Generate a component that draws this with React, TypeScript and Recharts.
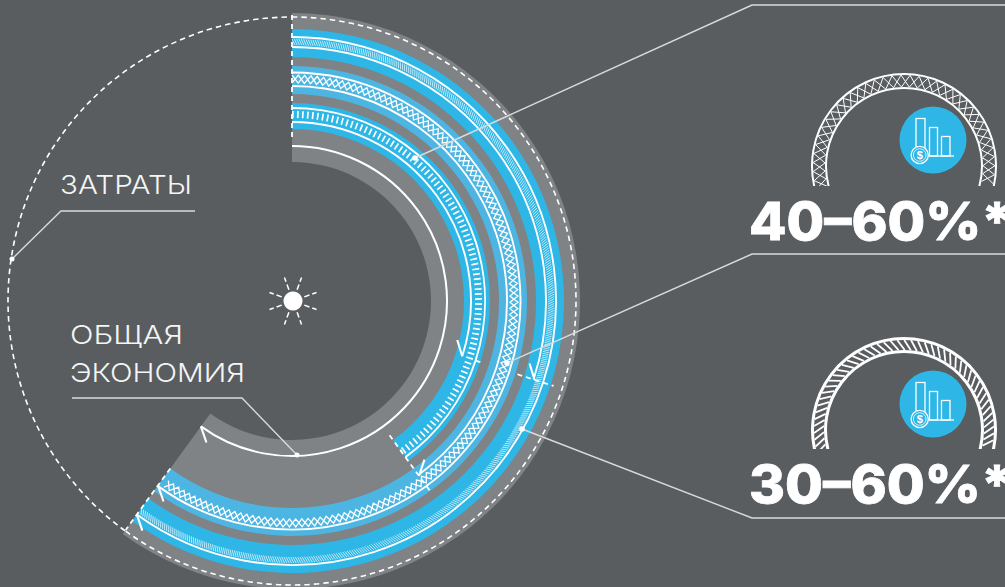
import { Pie, PieChart, Cell } from "recharts";

const BG = "#5A5D60";
const GRAY = "#7F8386";
const BLUE = "#2DB6E6";
const LIGHT_BLUE = "#4DB5E1";
const WHITE = "#FFFFFF";
const LEADER = "#D9DADB";

// Share of the circle, in percent, taken by each arc (rest of the circle stays empty).
const FULL = [100, 0];
const SPEND = [60, 40];
const SAVING_OUTER = [30, 70];
const SAVING_INNER = [40, 60];
const ARCH = [100];

const HEADLINES = ["40–60%*", "30–60%*"];
const SPEND_LABEL = ["ЗАТРАТЫ"];
const SAVING_LABEL = ["ОБЩАЯ", "ЭКОНОМИЯ"];
const SUN_RAYS = [20, 70, 110, 160, 200, 250, 290, 340];

const CX = 292;
const CY = 301;
const W = 1005;
const H = 587;

const toXY = (cx: number, cy: number, r: number, a: number) => {
  const t = (a * Math.PI) / 180;
  return [cx + r * Math.cos(t), cy - r * Math.sin(t)];
};

function arcPath(cx: number, cy: number, r: number, a0: number, a1: number) {
  const [x0, y0] = toXY(cx, cy, r, a0);
  const [x1, y1] = toXY(cx, cy, r, a1);
  const large = Math.abs(a0 - a1) > 180 ? 1 : 0;
  return `M${x0} ${y0}A${r} ${r} 0 ${large} 1 ${x1} ${y1}`;
}

type Opts = {
  kind: "dash" | "ticks" | "hatch" | "lattice" | "radial" | "barb";
  width?: number;
  dash?: string;
  pitch?: number;
  slant?: number;
  side?: number;
  all?: boolean;
  clip?: string;
};

// Draws the white decoration of a ring from the sector the Pie has computed.
function ringShape(o: Opts) {
  return (p: any) => {
    if (!o.all && p.index !== 0) return <g />;
    const { cx, cy, innerRadius: r0, outerRadius: r1, startAngle: a0, endAngle: a1 } = p;
    const mid = (r0 + r1) / 2;
    const common = { fill: "none", stroke: WHITE, strokeWidth: o.width ?? 1.5 };
    let body: any = null;
    if (o.kind === "dash") {
      body = <path d={arcPath(cx, cy, mid, a0, a1)} {...common} strokeDasharray={o.dash} />;
    } else if (o.kind === "ticks") {
      body = <path d={arcPath(cx, cy, mid, a0, a1)} {...common} strokeWidth={r1 - r0} strokeDasharray={o.dash} />;
    } else if (o.kind === "hatch") {
      const step = (((o.pitch ?? 3) / mid) * 180) / Math.PI;
      const skew = (((o.slant ?? 3) / mid) * 180) / Math.PI;
      const segs: string[] = [];
      for (let a = a0 - skew; a > a1; a -= step) {
        const [x0, y0] = toXY(cx, cy, r0, a);
        const [x1, y1] = toXY(cx, cy, r1, a + skew);
        segs.push(`M${x0} ${y0}L${x1} ${y1}`);
      }
      body = <path d={segs.join("")} {...common} />;
    } else if (o.kind === "lattice") {
      const step = (((o.pitch ?? 12) / 2 / mid) * 180) / Math.PI;
      const n = Math.floor((a0 - a1) / step);
      const zig = (phase: number) => {
        let d = "";
        for (let i = 0; i <= n; i++) {
          const [x, y] = toXY(cx, cy, (i + phase) % 2 === 0 ? r0 : r1, a0 - i * step);
          d += `${i === 0 ? "M" : "L"}${x} ${y}`;
        }
        return d;
      };
      body = (
        <>
          <path d={zig(0)} {...common} />
          <path d={zig(1)} {...common} />
        </>
      );
    } else if (o.kind === "radial") {
      const [x0, y0] = toXY(cx, cy, r0, a1);
      const [x1, y1] = toXY(cx, cy, r1, a1);
      body = <line x1={x0} y1={y0} x2={x1} y2={y1} {...common} strokeDasharray={o.dash} />;
    } else if (o.kind === "barb") {
      const [x, y] = toXY(cx, cy, r0, a1);
      const t = (a1 * Math.PI) / 180;
      // unit vector pointing back along the arc, then turned by 35 degrees
      const bx = Math.sin(t) * -1;
      const by = Math.cos(t) * -1;
      const s = ((o.side ?? 1) * 35 * Math.PI) / 180;
      const dx = bx * Math.cos(s) - by * Math.sin(s);
      const dy = bx * Math.sin(s) + by * Math.cos(s);
      body = <line x1={x} y1={y} x2={x + dx * 17} y2={y + dy * 17} {...common} strokeWidth={2.1} />;
    }
    return <g clipPath={o.clip ? `url(#${o.clip})` : undefined}>{body}</g>;
  };
}

function ring(
  key: string,
  values: number[],
  inner: number,
  outer: number,
  fill: string | null,
  opts?: Opts,
  cx = CX,
  cy = CY,
  start = 90,
  end = -270,
) {
  return (
    <Pie
      key={key}
      data={values.map((value) => ({ value }))}
      dataKey="value"
      cx={cx}
      cy={cy}
      innerRadius={inner}
      outerRadius={outer}
      startAngle={start}
      endAngle={end}
      stroke="none"
      isAnimationActive={false}
      shape={opts ? ringShape(opts) : undefined}
    >
      {values.map((_, i) => (
        <Cell key={i} fill={i === 0 && fill ? fill : "none"} />
      ))}
    </Pie>
  );
}

function Icon({ x, y }: { x: number; y: number }) {
  const s = { fill: "none", stroke: WHITE, strokeWidth: 1.3 };
  return (
    <g transform={`translate(${x} ${y})`}>
      <circle r={33.5} fill={BLUE} />
      <rect x={-17} y={-21.5} width={9} height={30} {...s} />
      <rect x={-3.5} y={-12.5} width={8} height={28.5} {...s} />
      <rect x={8.5} y={-3.5} width={8.5} height={19.5} {...s} />
      <line x1={-4.5} y1={16} x2={21} y2={16} {...s} />
      <circle cx={-13.3} cy={15} r={8.6} fill={BLUE} stroke={WHITE} strokeWidth={1.3} />
      <circle cx={-13.3} cy={15} r={6.3} {...s} strokeWidth={0.8} />
      <text x={-13.3} y={19} textAnchor="middle" fontFamily="Liberation Sans" fontWeight={700} fontSize={11} fill={WHITE}>
        $
      </text>
    </g>
  );
}

const sans = { fontFamily: "Inter, Liberation Sans, sans-serif", fontWeight: 300, fill: "#F4F5F5" };
const headline = { fontFamily: "Inter, Liberation Sans, sans-serif", fontWeight: 800, fontSize: 52, fill: WHITE, stroke: WHITE, strokeWidth: 0.8 };
const leader = { fill: "none", stroke: LEADER, strokeWidth: 1.4 };

export default function App() {
  const dash = { kind: "radial", width: 1.8, dash: "5 4" } as Opts;
  const barbIn = { kind: "barb", side: -1 } as Opts;
  const barbOut = { kind: "barb", side: 1 } as Opts;
  const line = { kind: "dash", width: 1.9 } as Opts;
  return (
    <div style={{ position: "absolute", left: 0, top: 0, width: W, height: H, background: BG, overflow: "hidden" }}>
      <PieChart width={W} height={H} margin={{ top: 0, right: 0, bottom: 0, left: 0 }}>
        <defs>
          <clipPath id="archTop">
            <rect x={790} y={60} width={215} height={126} />
          </clipPath>
          <clipPath id="archBottom">
            <rect x={790} y={325} width={215} height={124} />
          </clipPath>
        </defs>

        {ring("sector", SPEND, 139, 288, GRAY)}
        {ring("band1", SPEND, 244, 272, BLUE)}
        {ring("band2", SPEND, 207, 235, LIGHT_BLUE)}
        {ring("band3", SAVING_INNER, 172, 198, BLUE)}

        {ring("b1a", SPEND, 264, 264, null, line)}
        {ring("b1b", SAVING_OUTER, 254, 254, null, line)}
        {ring("b2a", SPEND, 228.5, 228.5, null, line)}
        {ring("b2b", SAVING_INNER, 215, 215, null, line)}
        {ring("b3a", SAVING_INNER, 193, 193, null, line)}
        {ring("b3b", SAVING_OUTER, 179, 179, null, line)}
        {ring("inner", SPEND, 155, 155, null, { kind: "dash", width: 2 })}

        {ring("p1", SPEND, 256, 262, null, { kind: "hatch", pitch: 2.3, slant: 3, width: 0.7 })}
        {ring("p2", SPEND, 218, 226, null, { kind: "lattice", pitch: 12.5, width: 1.3 })}
        {ring("p3", SAVING_INNER, 183, 190, null, { kind: "ticks", dash: "1.7 3.3" })}

        {ring("circle", SPEND, 284, 284, null, { kind: "dash", width: 1.6, dash: "5.5 4", all: true })}
        {ring("d0", FULL, 164, 288, null, dash)}
        {ring("d30a", SAVING_OUTER, 193, 201, null, dash)}
        {ring("d30b", SAVING_OUTER, 237, 275, null, dash)}
        {ring("d40", SAVING_INNER, 166, 237, null, dash)}
        {ring("d60", SPEND, 207, 283, null, dash)}

        {ring("a30a", SAVING_OUTER, 179, 179, null, barbIn)}
        {ring("a30b", SAVING_OUTER, 255, 255, null, barbIn)}
        {ring("a40", SAVING_INNER, 216, 216, null, barbIn)}
        {ring("a60a", SPEND, 155, 155, null, barbOut)}
        {ring("a60b", SPEND, 228, 228, null, barbOut)}
        {ring("a60c", SPEND, 264, 264, null, barbOut)}

        {ring("archA1", ARCH, 91, 93, null, { kind: "dash", width: 2, clip: "archTop" }, 904, 166, 195, -15)}
        {ring("archA2", ARCH, 77, 79, null, { kind: "dash", width: 2, clip: "archTop" }, 904, 166, 195, -15)}
        {ring("archA3", ARCH, 79, 91, null, { kind: "lattice", pitch: 17, width: 1, clip: "archTop" }, 904, 166, 195, -15)}
        {ring("archB1", ARCH, 90, 93, null, { kind: "dash", width: 3, clip: "archBottom" }, 904, 430, 195, -15)}
        {ring("archB2", ARCH, 77, 80, null, { kind: "dash", width: 3, clip: "archBottom" }, 904, 430, 195, -15)}
        {ring("archB3", ARCH, 80, 90, null, { kind: "hatch", pitch: 6.5, slant: 7, width: 1.8, clip: "archBottom" }, 904, 430, 195, -15)}

        {ring("sun", ARCH, 0, 9.5, WHITE, undefined, CX + 1, CY)}
        {SUN_RAYS.map((a) =>
          ring(`ray${a}`, [a, 360 - a].map((v) => (v / 360) * 100), 12, 25, null, { kind: "radial", width: 1.5, dash: "5.5 3 5" }, CX + 1, CY),
        )}

        <Icon x={933} y={140} />
        <Icon x={933} y={404} />

        <text x={749} y={240} textLength={264} lengthAdjust="spacingAndGlyphs" {...headline}>
          {HEADLINES[0]}
        </text>
        <text x={749} y={503} textLength={264} lengthAdjust="spacingAndGlyphs" {...headline}>
          {HEADLINES[1]}
        </text>
        <text x={60} y={194} fontSize={26} textLength={132} lengthAdjust="spacingAndGlyphs" {...sans}>
          {SPEND_LABEL[0]}
        </text>
        <text x={70} y={344} fontSize={26} textLength={113} lengthAdjust="spacingAndGlyphs" {...sans}>
          {SAVING_LABEL[0]}
        </text>
        <text x={70} y={382} fontSize={26} textLength={175} lengthAdjust="spacingAndGlyphs" {...sans}>
          {SAVING_LABEL[1]}
        </text>
      </PieChart>

      {/* leader lines sit above the rings, which the chart always paints last */}
      <svg width={W} height={H} style={{ position: "absolute", left: 0, top: 0, pointerEvents: "none" }}>
        <polyline points="415,158 752,5 1005,5" {...leader} />
        <polyline points="507,363 752,254 1005,254" {...leader} />
        <polyline points="522,429 752,518 1005,518" {...leader} />
        <polyline points="12,259 61,211 195,211" {...leader} />
        <polyline points="297,455 242,398 72,398" {...leader} />
        <circle cx={415} cy={158} r={2.8} fill={WHITE} />
        <circle cx={507} cy={363} r={2.8} fill={WHITE} />
        <circle cx={522} cy={429} r={2.8} fill={WHITE} />
        <circle cx={12} cy={259} r={2.5} fill={WHITE} />
        <circle cx={297} cy={455} r={2.5} fill={WHITE} />
      </svg>
    </div>
  );
}
